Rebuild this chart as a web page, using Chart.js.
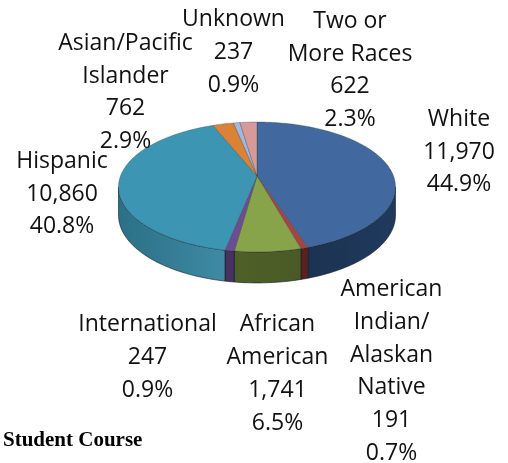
<!DOCTYPE html>
<html><head><meta charset="utf-8">
<style>html,body{margin:0;padding:0;background:#fff}canvas{display:block}</style>
<script src="https://cdn.jsdelivr.net/npm/chart.js@4"></script>
</head><body><canvas id="c" width="508" height="463"></canvas>
<script>
const categories = ["White","American Indian/Alaskan Native","African American","International","Hispanic","Asian/Pacific Islander","Unknown","Two or More Races"];
const values = [11970,191,1741,247,10860,762,237,622];
const valueLabels = ["11,970","191","1,741","247","10,860","762","237","622"];
const percentLabels = ["44.9%","0.7%","6.5%","0.9%","40.8%","2.9%","0.9%","2.3%"];
const topColors = ["#41699f","#a8433f","#88a44a","#6c4d92","#3c95b2","#dc8236","#a3b8db","#d79a99"];
const wallColors = [["#1f3a5e","#1c3350"],["#5c211f","#5c211f"],["#4a5a26","#4e6028"],["#47315f","#47315f"],["#3f8aa4","#2b7086"],["#a0601f","#a0601f"],["#7888a5","#7888a5"],["#a07070","#a07070"]];
const nameLines = [["White"],["American","Indian/","Alaskan","Native"],["African","American"],["International"],["Hispanic"],["Asian/Pacific","Islander"],["Unknown"],["Two or","More Races"]];
const footnote = "Student Course";
const labelFont = '23px "Open Sans", sans-serif';
const labelPlace = [[459,119.5,32.7],[391.5,289.5,32.8],[277.5,324.5,33],[147.5,324.5,33],[62,161.5,32.5],[125.5,43.5,32.5],[233.5,19.5,33],[350,21.5,32.5]];

const P = {cx:257, cy:176, R:136.5, A:63.1, B:0.169, dTop:24, dGrow:7};
function proj(a, drop){
  const u=Math.cos(a), v=Math.sin(a), w=1-P.B*v;
  const d = drop ? P.dTop + P.dGrow*(v+1)/2*1 : 0;
  return [P.cx+P.R*u/w, P.cy+P.A*v/w+d];
}
function rim(ctx,a0,a1,drop,move){
  const n=Math.max(2,Math.ceil(Math.abs(a1-a0)/0.02));
  for(let i=0;i<=n;i++){const p=proj(a0+(a1-a0)*i/n,drop);
    if(i===0&&move)ctx.moveTo(p[0],p[1]);else ctx.lineTo(p[0],p[1]);}
}
const pie3d = {
  id:'pie3d',
  beforeDatasetDraw(chart){
    const ctx=chart.ctx, arcs=chart.getDatasetMeta(0).data;
    arcs.forEach((arc,i)=>{
      const lo=0.17, hi=Math.PI-0.17;
      const s=Math.max(arc.startAngle,lo), e=Math.min(arc.endAngle,hi);
      if(e<=s)return;
      const l=proj(s,false),r=proj(e,false);
      const g=ctx.createLinearGradient(Math.min(l[0],r[0]),0,Math.max(l[0],r[0]),0);
      g.addColorStop(0,wallColors[i][1]); g.addColorStop(1,wallColors[i][0]);
      ctx.beginPath(); rim(ctx,s,e,false,true); rim(ctx,e,s,true,false); ctx.closePath();
      ctx.fillStyle=g; ctx.fill();
      ctx.strokeStyle='rgba(10,25,40,0.75)'; ctx.lineWidth=0.8; ctx.stroke();
    });
    arcs.forEach((arc,i)=>{
      ctx.beginPath(); ctx.moveTo(P.cx,P.cy); rim(ctx,arc.startAngle,arc.endAngle,false,false); ctx.closePath();
      ctx.fillStyle=topColors[i]; ctx.fill();
      ctx.strokeStyle='rgba(40,50,60,0.45)'; ctx.lineWidth=0.7; ctx.stroke();
    });
    return false;
  },
  afterDraw(chart){
    const ctx=chart.ctx;
    ctx.save(); ctx.fillStyle='#111'; ctx.font=labelFont; ctx.textAlign='center'; ctx.textBaseline='middle';
    categories.forEach((c,i)=>{
      const lines=[...nameLines[i],valueLabels[i],percentLabels[i]];
      const [x,y,lh]=labelPlace[i];
      lines.forEach((t,j)=>ctx.fillText(t,x,y+j*lh));
    });
    ctx.font='bold 21px "Liberation Serif", serif'; ctx.textAlign='left'; ctx.fillStyle='#000';
    ctx.fillText(footnote,3,441);
    ctx.restore();
  }
};
new Chart(document.getElementById('c'),{
  type:'pie',
  data:{labels:categories,datasets:[{data:values,backgroundColor:topColors}]},
  options:{responsive:false,animation:false,plugins:{legend:{display:false},tooltip:{enabled:false}}},
  plugins:[pie3d]
});
</script></body></html>
